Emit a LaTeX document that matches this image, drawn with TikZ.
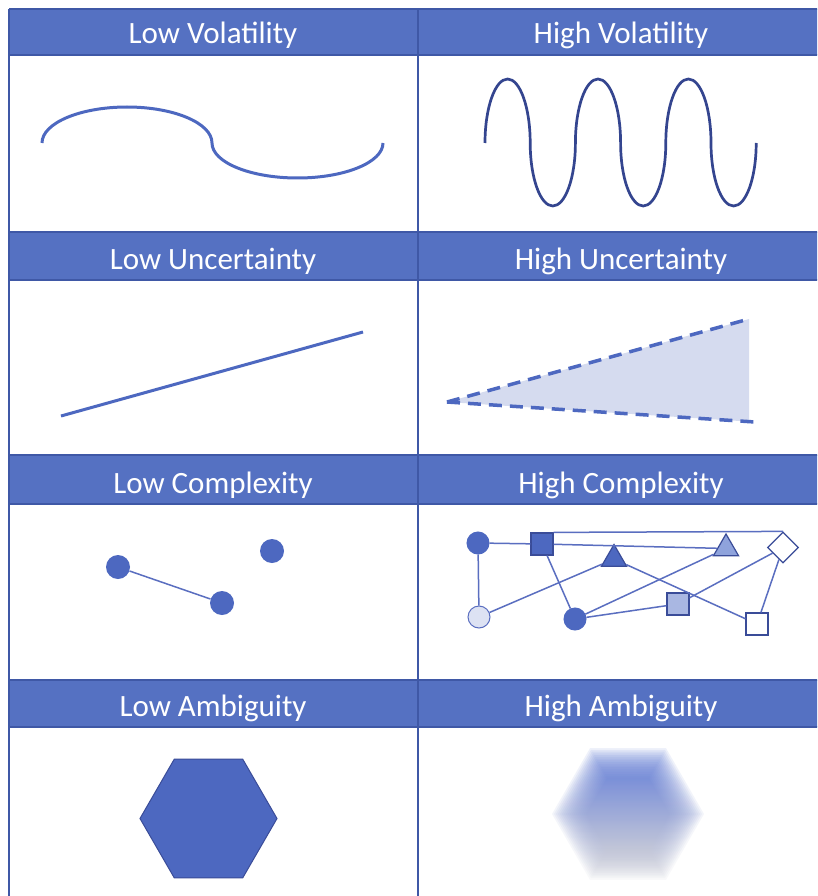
\documentclass[tikz,border=0pt]{standalone}
\usepackage{fontspec}
\setmainfont{Carlito}
\usetikzlibrary{shapes.geometric}
\definecolor{hdr}{HTML}{5571C2}
\definecolor{gridc}{HTML}{3F58A6}
\definecolor{mainc}{HTML}{4D68C0}
\definecolor{navy}{HTML}{34458F}
\definecolor{edgec}{HTML}{5A6EC0}
\definecolor{lightc}{HTML}{D5DBEF}
\definecolor{midc}{HTML}{A9B7E2}
\definecolor{trilight}{HTML}{8FA3DC}
\definecolor{palec}{HTML}{DDE2F3}
\definecolor{bordc}{HTML}{3A4C98}
\definecolor{blurtop}{HTML}{5F7AD6}
\definecolor{blurmid}{HTML}{7482BC}
\definecolor{blurbot}{HTML}{C8CAD6}
\tikzset{
  hdrtext/.style={text=white, anchor=base, inner sep=0pt, font=\fontsize{31}{37}\selectfont},
  gridline/.style={draw=gridc, line width=1.5pt},
  curve/.style={draw=mainc, line width=3pt},
  sine/.style={draw=navy, line width=2.7pt},
  dashline/.style={draw=mainc, line width=3.5pt, dash pattern=on 13pt off 8pt},
  edge/.style={draw=edgec, line width=1.5pt},
  dot/.style={circle, fill=mainc, minimum size=24pt, inner sep=0pt},
  cnode/.style={circle, minimum size=22pt, inner sep=0pt, draw=bordc, line width=1pt},
  snode/.style={rectangle, minimum size=22pt, inner sep=0pt, draw=bordc, line width=1.2pt},
  tnode/.style={regular polygon, regular polygon sides=3, minimum size=29pt, inner sep=0pt, draw=bordc, line width=1.2pt},
  dnode/.style={diamond, minimum width=31pt, minimum height=31pt, inner sep=0pt, draw=bordc, line width=1.2pt}
}
\begin{document}
\begin{tikzpicture}[x=1pt,y=-1pt]
\useasboundingbox (0,0) rectangle (817,896);
\clip (0,0) rectangle (817,896);
\fill[white] (0,0) rectangle (817,896);
% header bands
\foreach \t/\b in {9/55, 232/280, 455/504, 680/727}{
  \fill[hdr] (9,\t) rectangle (830,\b);
  \draw[gridline] (9,\t) -- (830,\t);
  \draw[gridline] (9,\b) -- (830,\b);
}
\draw[gridline] (9,9) -- (9,900);
\draw[gridline] (418,9) -- (418,900);
% header texts
\node[hdrtext] (h1) at (213,44) {Low Volatility};
\node[hdrtext] (h2) at (621,44) {High Volatility};
\node[hdrtext] (h3) at (213,269) {Low Uncertainty};
\node[hdrtext] (h4) at (621,269) {High Uncertainty};
\node[hdrtext] (h5) at (213,493) {Low Complexity};
\node[hdrtext] (h6) at (621,493) {High Complexity};
\node[hdrtext] (h7) at (213,716) {Low Ambiguity};
\node[hdrtext] (h8) at (621,716) {High Ambiguity};
% low volatility
\draw[curve] (42,143) arc[start angle=180, end angle=0, x radius=85pt, y radius=36pt]
                      arc[start angle=180, end angle=360, x radius=85.5pt, y radius=35pt];
% high volatility
\draw[sine] (485,143)
  arc[start angle=180, end angle=0, x radius=22.6pt, y radius=64pt]
  arc[start angle=180, end angle=360, x radius=22.6pt, y radius=63pt]
  arc[start angle=180, end angle=0, x radius=22.6pt, y radius=64pt]
  arc[start angle=180, end angle=360, x radius=22.6pt, y radius=63pt]
  arc[start angle=180, end angle=0, x radius=22.6pt, y radius=64pt]
  arc[start angle=180, end angle=360, x radius=22.6pt, y radius=63pt];
% low uncertainty
\draw[curve] (61,416) -- (363,332);
% high uncertainty
\fill[lightc] (447,402) -- (749,319) -- (749,421.6) -- cycle;
\draw[dashline] (447,402) -- (749,319);
\draw[dashline] (447,402) -- (755,422);
% low complexity
\node[dot] (p1) at (118,567) {};
\node[dot] (p2) at (222,603) {};
\node[dot] (p3) at (272,551) {};
\draw[edge] (p1) -- (p2);
% high complexity
\node[cnode, fill=mainc, draw=mainc] (A) at (478,543) {};
\node[snode, fill=mainc] (B) at (542,544) {};
\node[tnode, fill=mainc] (C) at (614,559) {};
\node[tnode, fill=trilight] (D) at (726,548.5) {};
\node[dnode, fill=white] (E) at (783,547.5) {};
\node[cnode, fill=palec, draw=edgec] (F) at (479,617) {};
\node[cnode, fill=mainc, draw=mainc] (G) at (575,619) {};
\node[snode, fill=midc] (H) at (678,604) {};
\node[snode, fill=white] (I) at (757,624) {};
\draw[edge] (A) -- (B);
\draw[edge] (A) -- (F);
\draw[edge] (B.north east) -- (E.north);
\draw[edge] (B) -- (D);
\draw[edge] (B) -- (G);
\draw[edge] (F) -- (C);
\draw[edge] (G) -- (D);
\draw[edge] (G) -- (H);
\draw[edge] (C) -- (I);
\draw[edge] (H) -- (E);
\draw[edge] (E) -- (I);
% low ambiguity
\filldraw[fill=mainc, draw=bordc, line width=1pt]
  (277,818.5) -- (242.75,759.2) -- (174.25,759.2) -- (140,818.5) -- (174.25,877.8) -- (242.75,877.8) -- cycle;
% high ambiguity (blurred)
\foreach \r in {76,74,...,42}{
  \shade[top color=blurtop, middle color=blurmid, bottom color=blurbot, opacity=0.1]
    (628+\r,814) -- (628+0.5*\r,814-0.866*\r) -- (628-0.5*\r,814-0.866*\r) -- (628-\r,814) -- (628-0.5*\r,814+0.866*\r) -- (628+0.5*\r,814+0.866*\r) -- cycle;
}
\end{tikzpicture}
\end{document}
